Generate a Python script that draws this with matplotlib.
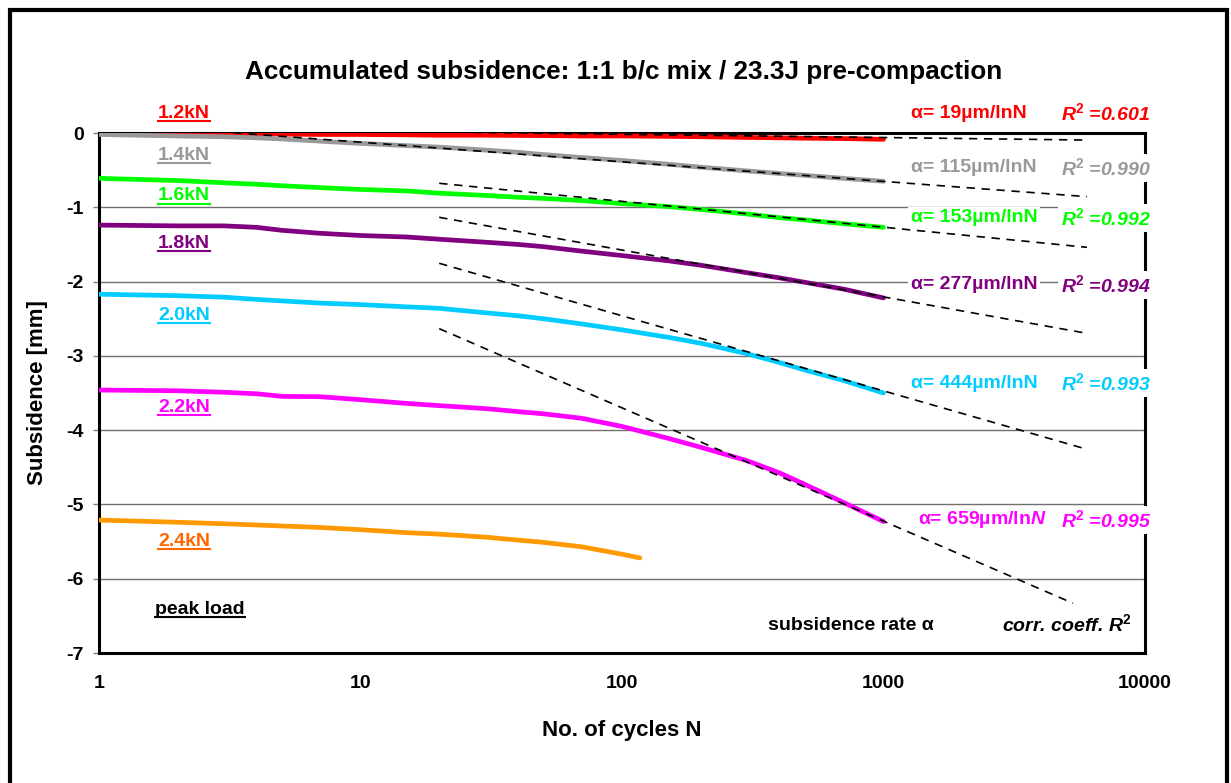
import matplotlib
matplotlib.use("Agg")
import matplotlib.pyplot as plt
from matplotlib.lines import Line2D
from matplotlib.patches import Rectangle

plt.rcParams['font.family'] = ['Liberation Sans', 'DejaVu Sans']
plt.rcParams['font.weight'] = 'bold'
plt.rcParams['mathtext.fontset'] = 'custom'
plt.rcParams['mathtext.rm'] = 'Liberation Sans:bold'
plt.rcParams['mathtext.it'] = 'Liberation Sans:italic:bold'
plt.rcParams['mathtext.bf'] = 'Liberation Sans:bold'

W, H = 1231, 783

# measured curves: cycles N and subsidence [mm]
n_full = [1, 2, 3, 4, 5, 7, 10, 15, 20, 30, 40, 50, 70, 100, 150, 200, 300, 400, 500, 700, 1000]
s_12 = [0.0, -0.005, -0.01, -0.012, -0.015, -0.02, -0.02, -0.025, -0.03, -0.03, -0.033,
        -0.035, -0.04, -0.04, -0.045, -0.05, -0.06, -0.065, -0.07, -0.075, -0.085]
s_14 = [-0.02, -0.04, -0.05, -0.065, -0.08, -0.11, -0.14, -0.17, -0.19, -0.23, -0.26,
        -0.29, -0.33, -0.37, -0.42, -0.46, -0.51, -0.545, -0.57, -0.61, -0.65]
s_16 = [-0.61, -0.64, -0.67, -0.69, -0.71, -0.735, -0.76, -0.78, -0.81, -0.84, -0.865,
        -0.88, -0.91, -0.95, -0.99, -1.03, -1.09, -1.14, -1.17, -1.22, -1.27]
s_18 = [-1.24, -1.25, -1.25, -1.27, -1.31, -1.35, -1.38, -1.40, -1.43, -1.47, -1.50,
        -1.53, -1.59, -1.65, -1.72, -1.78, -1.88, -1.95, -2.01, -2.10, -2.22]
s_20 = [-2.17, -2.19, -2.21, -2.24, -2.26, -2.29, -2.31, -2.34, -2.36, -2.42, -2.46,
        -2.50, -2.57, -2.65, -2.75, -2.83, -2.97, -3.09, -3.19, -3.33, -3.50]
s_22 = [-3.46, -3.47, -3.49, -3.51, -3.545, -3.55, -3.59, -3.64, -3.67, -3.71, -3.75,
        -3.78, -3.84, -3.95, -4.11, -4.23, -4.41, -4.575, -4.73, -4.97, -5.23]
n_24 = [1, 2, 3, 5, 7, 10, 15, 20, 30, 40, 50, 70, 100, 117]
s_24 = [-5.21, -5.24, -5.26, -5.29, -5.31, -5.34, -5.38, -5.40, -5.44, -5.48, -5.51,
        -5.57, -5.67, -5.72]

loads = ['1.2kN', '1.4kN', '1.6kN', '1.8kN', '2.0kN', '2.2kN', '2.4kN']
line_colors = ['#FF0000', '#999999', '#00FF00', '#800080', '#00CCFF', '#FF00FF', '#FF9900']
label_colors = ['#FF0000', '#999999', '#00FF00', '#800080', '#00CCFF', '#FF00FF', '#FF6600']

# log fits (start/end points of the dashed lines)
fit_n0 = [1, 1, 20, 20, 20, 20]
fit_n1 = [6000, 6000, 6000, 6000, 6000, 5300]
fit_s0 = [0.07, 0.14, -0.677, -1.135, -1.754, -2.634]
fit_s1 = [-0.095, -0.857, -1.539, -2.697, -4.258, -6.33]
alpha_um = [19, 115, 153, 277, 444, 659]
r2 = ['0.601', '0.990', '0.992', '0.994', '0.993', '0.995']

xticks = [1, 10, 100, 1000, 10000]
xtick_labels = ['1', '10', '100', '1000', '10000']
yticks = [0, -1, -2, -3, -4, -5, -6, -7]

fig = plt.figure(figsize=(W / 100, H / 100), dpi=100)
ax = fig.add_axes([99 / W, 1 - 653 / H, 1046 / W, 520 / H])

ax.set_xscale('log')
ax.set_xlim(1, 10000)
ax.set_ylim(-7, 0)
ax.set_xticks(xticks, labels=xtick_labels)
ax.minorticks_off()
ax.set_yticks(yticks, labels=[str(v) for v in yticks])
ax.tick_params(axis='x', length=0, pad=16, labelsize=14)
ax.tick_params(axis='y', length=4, width=1, color='#808080', pad=7, labelsize=14)
ax.grid(axis='y', color='#707070', lw=1.0)
ax.set_axisbelow(True)
for sp in ax.spines.values():
    sp.set_linewidth(2.2)
    sp.set_color('black')

series = [(n_full, s_12), (n_full, s_14), (n_full, s_16), (n_full, s_18),
          (n_full, s_20), (n_full, s_22), (n_24, s_24)]
for (n, s), c in zip(series, line_colors):
    ax.plot(n, s, color=c, lw=3.4, solid_capstyle='round', solid_joinstyle='round', zorder=3)

for i in range(len(fit_n0)):
    ax.plot([fit_n0[i], fit_n1[i]], [fit_s0[i], fit_s1[i]], color='black', lw=1.2,
            ls=(0, (5, 4)), zorder=4)

ax.set_xlabel('No. of cycles N', fontsize=16, fontweight='bold')
ax.xaxis.set_label_coords(0.5, (653 - 720) / 520)
ax.set_ylabel('Subsidence [mm]', fontsize=16, fontweight='bold')
ax.yaxis.set_label_coords((48 - 99) / 1046, 0.5)

fig.suptitle('Accumulated subsidence: 1:1 b/c mix / 23.3J pre-compaction',
             x=624 / W, y=1 - 72 / H, va='center', fontsize=18.8, fontweight='bold')


def ptext(x, y, s, **kw):
    return fig.text(x / W, 1 - y / H, s, va='center', zorder=6, **kw)


white = dict(facecolor='white', edgecolor='none', pad=2)

left_y = [113, 155, 196, 243, 315, 407, 541]
under = []
for name, c, y in zip(loads, label_colors, left_y):
    under.append(ptext(158, y, name, color=c, fontsize=14))
under.append(ptext(155, 609, 'peak load', color='black', fontsize=14))

right_y = [113, 168, 218, 285, 383, 520]
alpha_x = [911, 911, 911, 911, 911, 918]
for i in range(6):
    unit = 'µm/ln$\\it{N}$' if i == 5 else 'µm/lnN'
    ptext(alpha_x[i], right_y[i], f'α= {alpha_um[i]}' + unit, color=line_colors[i],
          fontsize=14, bbox=white)
    ptext(1061, right_y[i], 'R$^{2}$ =' + r2[i], color=line_colors[i], fontsize=14,
          style='italic', bbox=white)

ptext(768, 626, 'subsidence rate α', color='black', fontsize=14, bbox=white)
ptext(1002, 624, 'corr. coeff. R$^{2}$', color='black', fontsize=14, style='italic',
      bbox=white)

# outer frame
fig.patches.append(Rectangle((10 / W, -0.05), 1217 / W, 1.05 - 10 / H, fill=False,
                             lw=3, edgecolor='black', transform=fig.transFigure))

fig.canvas.draw()
r = fig.canvas.get_renderer()
for t in under:
    bb = t.get_window_extent(r)
    yl = (bb.y0 + 1) / H
    fig.lines.append(Line2D([bb.x0 / W, bb.x1 / W], [yl, yl], color=t.get_color(),
                            lw=1.5, transform=fig.transFigure))

fig.savefig('out.png', dpi=100)
